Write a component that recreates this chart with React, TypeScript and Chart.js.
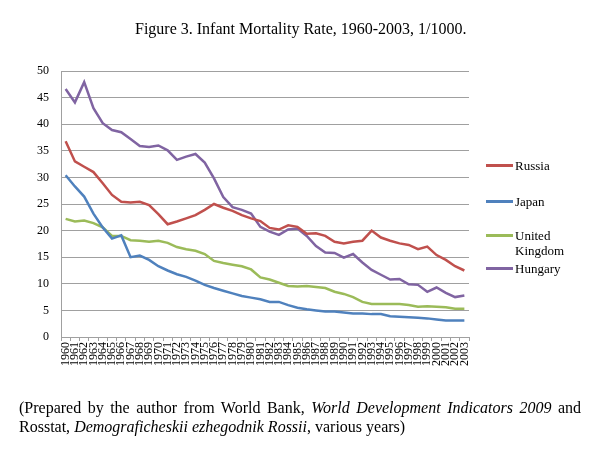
import React, { useEffect, useRef } from "react";
import { Chart, registerables } from "chart.js";

Chart.register(...registerables);

const years = [
  "1960", "1961", "1962", "1963", "1964", "1965", "1966", "1967", "1968", "1969",
  "1970", "1971", "1972", "1973", "1974", "1975", "1976", "1977", "1978", "1979",
  "1980", "1981", "1982", "1983", "1984", "1985", "1986", "1987", "1988", "1989",
  "1990", "1991", "1992", "1993", "1994", "1995", "1996", "1997", "1998", "1999",
  "2000", "2001", "2002", "2003",
];

const russia = [
  36.8, 33.0, 32.0, 31.0, 28.9, 26.7, 25.4, 25.3, 25.4, 24.8,
  23.1, 21.2, 21.7, 22.3, 22.9, 23.9, 25.0, 24.3, 23.7, 22.9,
  22.3, 21.8, 20.5, 20.2, 21.0, 20.7, 19.4, 19.5, 19.0, 17.9,
  17.6, 17.9, 18.1, 20.0, 18.7, 18.1, 17.6, 17.3, 16.5, 17.0,
  15.4, 14.5, 13.3, 12.5,
];

const japan = [
  30.4, 28.3, 26.4, 23.2, 20.6, 18.5, 19.1, 15.0, 15.3, 14.5,
  13.3, 12.5, 11.8, 11.3, 10.6, 9.8, 9.2, 8.7, 8.2, 7.7,
  7.4, 7.1, 6.6, 6.6, 6.0, 5.5, 5.2, 5.0, 4.8, 4.8,
  4.6, 4.4, 4.4, 4.3, 4.3, 3.9, 3.8, 3.7, 3.6, 3.5,
  3.3, 3.1, 3.1, 3.1,
];

const unitedKingdom = [
  22.2, 21.7, 21.9, 21.4, 20.6, 19.0, 19.0, 18.2, 18.1, 17.9,
  18.1, 17.7, 16.9, 16.5, 16.2, 15.6, 14.3, 13.9, 13.6, 13.3,
  12.7, 11.2, 10.8, 10.2, 9.6, 9.5, 9.6, 9.4, 9.2, 8.5,
  8.1, 7.5, 6.6, 6.2, 6.2, 6.2, 6.2, 6.0, 5.7, 5.8,
  5.7, 5.6, 5.3, 5.3,
];

const hungary = [
  46.6, 44.1, 47.9, 43.0, 40.2, 38.9, 38.5, 37.2, 35.9, 35.7,
  36.0, 35.1, 33.3, 33.9, 34.4, 32.8, 29.8, 26.3, 24.4, 23.9,
  23.2, 20.7, 19.8, 19.2, 20.2, 20.4, 19.0, 17.1, 15.9, 15.8,
  14.9, 15.6, 14.0, 12.6, 11.7, 10.8, 10.9, 9.9, 9.8, 8.5,
  9.3, 8.3, 7.5, 7.8,
];

const seriesNames = ["Russia", "Japan", "United Kingdom", "Hungary"];
const seriesColors = ["#C0504D", "#4F81BD", "#9BBB59", "#8064A2"];

const SERIF = "'Liberation Serif', 'Times New Roman', serif";

export default function App() {
  const canvasRef = useRef<HTMLCanvasElement | null>(null);

  useEffect(() => {
    if (!canvasRef.current) return;
    const seriesData = [russia, japan, unitedKingdom, hungary];
    const chart = new Chart(canvasRef.current, {
      type: "line",
      data: {
        labels: years,
        datasets: seriesNames.map((name, i) => ({
          label: name,
          data: seriesData[i],
          borderColor: seriesColors[i],
          backgroundColor: seriesColors[i],
          borderWidth: 2.5,
          pointRadius: 0,
          tension: 0,
          fill: false,
        })),
      },
      options: {
        animation: false,
        responsive: false,
        maintainAspectRatio: false,
        layout: { padding: { left: 0, right: 145, top: 71, bottom: 0 } },
        plugins: {
          legend: { display: false },
          title: { display: false },
          tooltip: { enabled: false },
        },
        scales: {
          x: {
            type: "category",
            offset: true,
            grid: {
              offset: true,
              drawOnChartArea: false,
              drawTicks: true,
              tickLength: 4,
              color: "#a0a0a0",
            },
            border: { color: "#a0a0a0", width: 1 },
            ticks: {
              autoSkip: false,
              minRotation: 90,
              maxRotation: 90,
              padding: 1,
              color: "#000",
              font: { family: SERIF, size: 12 },
            },
            afterFit: (scale: any) => {
              scale.height = 112;
            },
          },
          y: {
            min: 0,
            max: 50,
            ticks: {
              stepSize: 5,
              padding: 12,
              color: "#000",
              font: { family: SERIF, size: 12 },
            },
            grid: { color: "#a0a0a0", drawTicks: false, lineWidth: 1 },
            border: { color: "#a0a0a0", width: 1 },
            afterFit: (scale: any) => {
              scale.width = 61;
            },
          },
        },
      },
    });
    return () => chart.destroy();
  }, []);

  const legendRows = [
    { top: 158, lines: ["Russia"] },
    { top: 194, lines: ["Japan"] },
    { top: 228, lines: ["United", "Kingdom"] },
    { top: 261, lines: ["Hungary"] },
  ];

  return (
    <div
      style={{
        position: "absolute",
        left: 0,
        top: 0,
        width: 614,
        height: 449,
        background: "#fff",
        fontFamily: SERIF,
        color: "#000",
        overflow: "hidden",
      }}
    >
      <canvas
        ref={canvasRef}
        width={614}
        height={449}
        style={{ position: "absolute", left: 0, top: 0, width: 614, height: 449 }}
      />
      <div
        style={{
          position: "absolute",
          left: 135,
          top: 19,
          width: 330,
          textAlign: "center",
          fontSize: 16,
          lineHeight: "20px",
          whiteSpace: "nowrap",
        }}
      >
        Figure 3. Infant Mortality Rate, 1960-2003, 1/1000.
      </div>
      {legendRows.map((row, i) => (
        <div
          key={seriesNames[i]}
          style={{ position: "absolute", left: 486, top: row.top, fontSize: 13, lineHeight: "15px" }}
        >
          <div
            style={{
              position: "absolute",
              left: 0,
              top: 6,
              width: 27,
              height: 3,
              background: seriesColors[i],
            }}
          />
          <div style={{ position: "absolute", left: 29, top: 0, whiteSpace: "nowrap" }}>
            {row.lines.map((l) => (
              <div key={l}>{l}</div>
            ))}
          </div>
        </div>
      ))}
      <div
        style={{
          position: "absolute",
          left: 19,
          top: 398,
          width: 562,
          fontSize: 16,
          lineHeight: "19px",
        }}
      >
        <div style={{ textAlign: "justify", textAlignLast: "justify", whiteSpace: "nowrap" as any }}>
          <div style={{ textAlign: "justify", textAlignLast: "justify", whiteSpace: "normal" }}>
            (Prepared by the author from World Bank, <i>World Development Indicators 2009</i> and
          </div>
        </div>
        <div>
          Rosstat, <i>Demograficheskii ezhegodnik Rossii</i>, various years)
        </div>
      </div>
    </div>
  );
}
